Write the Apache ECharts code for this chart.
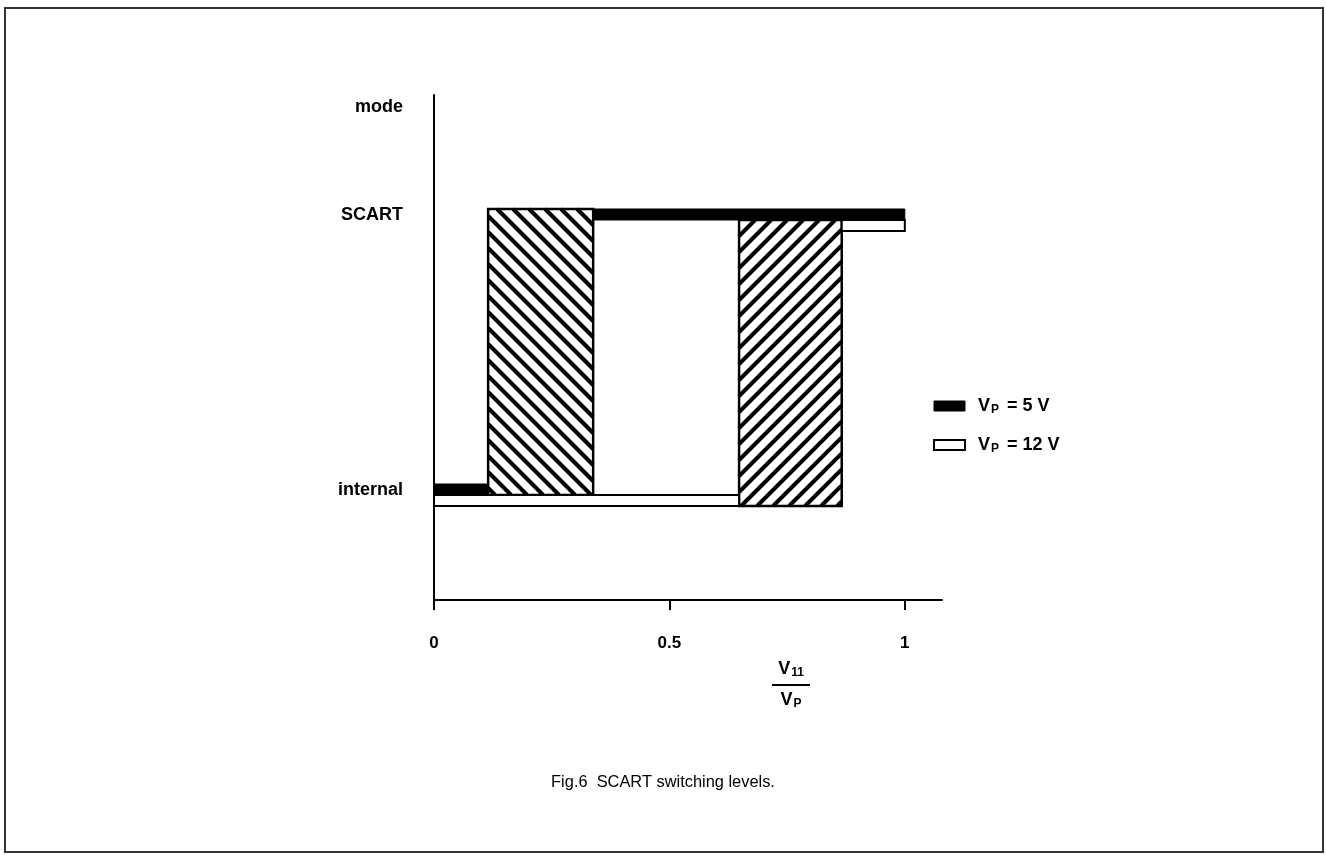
<!DOCTYPE html>
<html><head><meta charset="utf-8">
<script src="https://cdn.jsdelivr.net/npm/echarts@6/dist/echarts.min.js"></script>
<style>html,body{margin:0;padding:0;background:#fff}#c{width:1326px;height:855px}</style>
</head><body><div id="c"></div>
<script>
// ---- data ----
const xTickValues = [0, 0.5, 1];
const yLevelLabels = ['internal', 'SCART', 'mode'];
const yLabelValues = [0.018, 1.018, 1.41];
const seriesNames = ['Vp = 5 V', 'Vp = 12 V'];
// level segments: [x start, x end, level (0 = internal, 1 = SCART)]
const vp5Segments = [[0, 0.115, 0], [0.338, 1, 1]];
const vp12Segments = [[0, 0.648, 0], [0.866, 1, 1]];
// switching (uncertain) zones: [x start, x end]
const vp5Zone = [[0.115, 0.338]];
const vp12Zone = [[0.648, 0.866]];
const captionText = 'Fig.6  SCART switching levels.';

// ---- styling ----
const FONT = 'Liberation Sans, Arial, Helvetica, sans-serif';
const BAND = 11;

function bandRender(isBlack) {
  return function (params, api) {
    const a = api.coord([api.value(0), api.value(2)]);
    const b = api.coord([api.value(1), api.value(2)]);
    const y = isBlack ? a[1] - BAND : a[1];
    return {
      type: 'rect',
      shape: { x: a[0], y: y, width: b[0] - a[0], height: BAND },
      style: isBlack ? { fill: '#000', stroke: '#000', lineWidth: 1 }
                     : { fill: '#fff', stroke: '#000', lineWidth: 2 }
    };
  };
}

function hatchRender(dir, topOff, botOff) {
  return function (params, api) {
    const p0 = api.coord([api.value(0), 1]);
    const p1 = api.coord([api.value(1), 0]);
    const x0 = p0[0], x1 = p1[0], y0 = p0[1] + topOff, y1 = p1[1] + botOff;
    const children = [{ type: 'rect', shape: { x: x0, y: y0, width: x1 - x0, height: y1 - y0 }, style: { fill: '#fff' } }];
    const step = 16;
    if (dir < 0) { // "\" lines: y = x + k
      for (let k = y0 - x1 - step; k <= y1 - x0 + step; k += step) {
        const lo = Math.max(x0, y0 - k), hi = Math.min(x1, y1 - k);
        if (hi > lo) children.push({ type: 'line', shape: { x1: lo, y1: lo + k, x2: hi, y2: hi + k }, style: { stroke: '#000', lineWidth: 4 } });
      }
    } else { // "/" lines: y = -x + k
      for (let k = y0 + x0 - step; k <= y1 + x1 + step; k += step) {
        const lo = Math.max(x0, k - y1), hi = Math.min(x1, k - y0);
        if (hi > lo) children.push({ type: 'line', shape: { x1: lo, y1: k - lo, x2: hi, y2: k - hi }, style: { stroke: '#000', lineWidth: 4 } });
      }
    }
    children.push({ type: 'rect', shape: { x: x0, y: y0, width: x1 - x0, height: y1 - y0 }, style: { fill: 'none', stroke: '#000', lineWidth: 2.5 } });
    return { type: 'group', children: children };
  };
}

const chart = echarts.init(document.getElementById('c'), null, { renderer: 'canvas' });
chart.setOption({
  backgroundColor: '#fff',
  animation: false,
  title: {
    text: captionText, left: 'center', top: 769,
    textStyle: { fontFamily: FONT, fontSize: 16.4, fontWeight: 'normal', color: '#000' }
  },
  grid: { left: 434, top: 95, right: 384, bottom: 255 },
  legend: {
    orient: 'vertical', left: 928, top: 392, itemWidth: 31, itemHeight: 10, itemGap: 20, icon: 'rect',
    data: [
      { name: seriesNames[0], itemStyle: { color: '#000', borderColor: '#000', borderWidth: 1 } },
      { name: seriesNames[1], itemStyle: { color: '#fff', borderColor: '#000', borderWidth: 2 } }
    ],
    formatter: function (name) { return '{f|V}{s|P}{v|' + name.split('Vp')[1] + '}'; },
    textStyle: {
      rich: {
        f: { fontFamily: FONT, fontSize: 18, fontWeight: 'bold', color: '#000', padding: [0, 0, 0, 8] },
        v: { fontFamily: FONT, fontSize: 18, fontWeight: 'bold', color: '#000' },
        s: { fontFamily: FONT, fontSize: 12, fontWeight: 'bold', color: '#000', padding: [8, 3, 0, 1] }
      }
    }
  },
  xAxis: {
    type: 'value', min: 0, max: 1.079, interval: 0.5,
    axisLine: { show: true, onZero: false, lineStyle: { color: '#000', width: 2 } },
    axisTick: { show: true, customValues: xTickValues, length: 10, lineStyle: { color: '#000', width: 2 } },
    splitLine: { show: false },
    axisLabel: {
      customValues: xTickValues,
      margin: 35, color: '#000', fontFamily: FONT, fontSize: 17, fontWeight: 'bold',
      formatter: function (v) { return String(v); }
    }
  },
  yAxis: {
    type: 'value', min: -0.3818, max: 1.4545,
    axisLine: { show: true, onZero: false, lineStyle: { color: '#000', width: 2 } },
    axisTick: { show: false },
    splitLine: { show: false },
    axisLabel: {
      customValues: yLabelValues,
      margin: 31, color: '#000', fontFamily: FONT, fontSize: 18, fontWeight: 'bold',
      formatter: function (v) { const i = yLabelValues.indexOf(v); return i >= 0 ? yLevelLabels[i] : ''; }
    }
  },
  graphic: [
    { type: 'rect', silent: true, shape: { x: 5, y: 8, width: 1318, height: 844 }, style: { fill: 'none', stroke: '#333', lineWidth: 2 } },
    { type: 'text', silent: true, x: 791, y: 669, style: {
        text: '{v|V}{s|11}', align: 'center', verticalAlign: 'middle',
        rich: { v: { fontFamily: FONT, fontSize: 18, fontWeight: 'bold', fill: '#000' }, s: { fontFamily: FONT, fontSize: 12, fontWeight: 'bold', fill: '#000', padding: [8, 0, 0, 1] } } } },
    { type: 'line', silent: true, shape: { x1: 772, y1: 685, x2: 810, y2: 685 }, style: { stroke: '#000', lineWidth: 2 } },
    { type: 'text', silent: true, x: 791, y: 700, style: {
        text: '{v|V}{s|P}', align: 'center', verticalAlign: 'middle',
        rich: { v: { fontFamily: FONT, fontSize: 18, fontWeight: 'bold', fill: '#000' }, s: { fontFamily: FONT, fontSize: 12, fontWeight: 'bold', fill: '#000', padding: [8, 0, 0, 1] } } } }
  ],
  series: [
    { name: 'zone5', type: 'custom', renderItem: hatchRender(-1, -BAND, 0), data: vp5Zone, z: 1, silent: true },
    { name: 'zone12', type: 'custom', renderItem: hatchRender(1, 0, BAND), data: vp12Zone, z: 1, silent: true },
    { name: seriesNames[0], type: 'custom', renderItem: bandRender(true), data: vp5Segments, z: 3, itemStyle: { color: '#000' }, silent: true },
    { name: seriesNames[1], type: 'custom', renderItem: bandRender(false), data: vp12Segments, z: 2, itemStyle: { color: '#fff', borderColor: '#000' }, silent: true }
  ]
});
</script></body></html>
